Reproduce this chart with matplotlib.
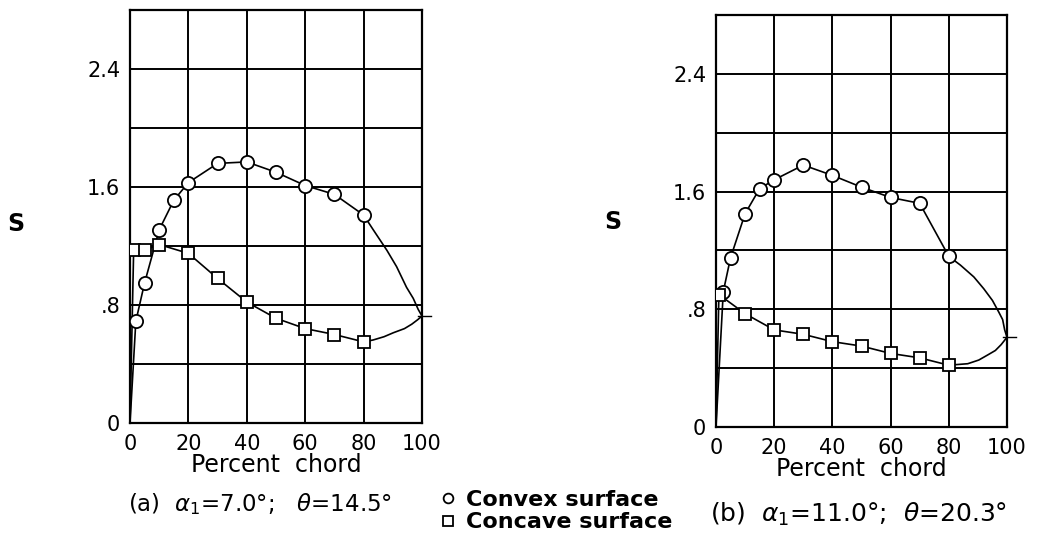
import numpy as np
import matplotlib
matplotlib.use("Agg")
from matplotlib import pyplot as plt
from matplotlib.lines import Line2D

# (a) alpha1 = 7.0, theta = 14.5
a_convex_x = [2, 5, 10, 15, 20, 30, 40, 50, 60, 70, 80]
a_convex_s = [0.69, 0.95, 1.31, 1.51, 1.63, 1.76, 1.77, 1.70, 1.61, 1.55, 1.41]
a_concave_x = [1.25, 5, 10, 20, 30, 40, 50, 60, 70, 80]
a_concave_s = [1.17, 1.17, 1.21, 1.15, 0.98, 0.82, 0.71, 0.64, 0.60, 0.55]
# faired curves to the trailing edge
a_convex_te_x = [83.3, 88, 91.3, 94.7, 97, 98.7, 100]
a_convex_te_s = [1.31, 1.17, 1.06, 0.92, 0.845, 0.77, 0.725]
a_concave_te_x = [83.3, 87, 90.2, 94, 96.5, 98.5, 100]
a_concave_te_s = [0.563, 0.585, 0.612, 0.64, 0.67, 0.70, 0.725]

# (b) alpha1 = 11.0, theta = 20.3
b_convex_x = [2.5, 5, 10, 15, 20, 30, 40, 50, 60, 70, 80]
b_convex_s = [0.92, 1.15, 1.45, 1.62, 1.68, 1.78, 1.71, 1.63, 1.56, 1.52, 1.16]
b_concave_x = [1, 10, 20, 30, 40, 50, 60, 70, 80]
b_concave_s = [0.90, 0.77, 0.66, 0.63, 0.58, 0.55, 0.50, 0.47, 0.42]
b_convex_te_x = [84, 88.6, 92, 95, 97.2, 98.5, 99.2, 100]
b_convex_te_s = [1.10, 1.02, 0.94, 0.86, 0.78, 0.73, 0.66, 0.61]
b_concave_te_x = [86.5, 90.3, 93.4, 96, 98, 99, 100]
b_concave_te_s = [0.43, 0.455, 0.49, 0.52, 0.56, 0.585, 0.61]

x_ticks = [0, 20, 40, 60, 80, 100]
x_labels = ["0", "20", "40", "60", "80", "100"]
y_ticks = [0, 0.4, 0.8, 1.2, 1.6, 2.0, 2.4, 2.8]
y_labels = ["0", "", ".8", "", "1.6", "", "2.4", ""]

captions = [r"(a)  $\alpha_{\mathit{1}}$=7.0°;   $\theta$=14.5°",
            r"(b)  $\alpha_{\mathit{1}}$=11.0°;  $\theta$=20.3°"]

plt.rcParams["mathtext.fontset"] = "dejavusans"

fig = plt.figure(figsize=(10.39, 5.39), dpi=100)
ax1 = fig.add_axes([130 / 1039, 1 - 423 / 539, 292 / 1039, 413 / 539])
ax2 = fig.add_axes([716 / 1039, 1 - 427 / 539, 291 / 1039, 412 / 539])


def draw_panel(ax, cx, cs, qx, qs, cte_x, cte_s, qte_x, qte_s):
    lw = 1.2
    # convex surface, from the leading edge
    ax.plot([0] + cx + cte_x, [0] + cs + cte_s, color="black", lw=lw, zorder=3)
    ax.plot(cx, cs, ls="none", marker="o", ms=9.5, mfc="white", mec="black", mew=1.3, zorder=4)
    # concave surface
    ax.plot([0] + qx + qte_x, [0] + qs + qte_s, color="black", lw=lw, zorder=3)
    ax.plot(qx, qs, ls="none", marker="s", ms=8.5, mfc="white", mec="black", mew=1.3, zorder=4)
    # trailing-edge tick
    te = cte_s[-1]
    ax.plot([98.5, 103], [te, te], color="black", lw=1.0, clip_on=False, zorder=3)

    ax.set_xlim(0, 100)
    ax.set_ylim(0, 2.8)
    ax.set_xticks(x_ticks)
    ax.set_xticklabels(x_labels, fontsize=15)
    ax.set_yticks(y_ticks)
    ax.set_yticklabels(y_labels, fontsize=15)
    ax.tick_params(axis="x", length=0, pad=8)
    ax.tick_params(axis="y", length=0, pad=7)
    ax.grid(True, color="black", lw=1.4)
    ax.set_axisbelow(True)
    for sp in ax.spines.values():
        sp.set_linewidth(1.6)
    ax.set_xlabel("Percent  chord", fontsize=17, labelpad=-1)


draw_panel(ax1, a_convex_x, a_convex_s, a_concave_x, a_concave_s,
           a_convex_te_x, a_convex_te_s, a_concave_te_x, a_concave_te_s)
draw_panel(ax2, b_convex_x, b_convex_s, b_concave_x, b_concave_s,
           b_convex_te_x, b_convex_te_s, b_concave_te_x, b_concave_te_s)

fig.text(16 / 1039, 1 - 224 / 539, "S", fontsize=17, fontweight="bold", ha="center", va="center")
fig.text(613 / 1039, 1 - 222 / 539, "S", fontsize=17, fontweight="bold", ha="center", va="center")

fig.text(128 / 1039, 1 - 504 / 539, captions[0], fontsize=16.5, ha="left", va="center")
fig.text(710 / 1039, 1 - 514 / 539, captions[1], fontsize=18, ha="left", va="center")

handles = [Line2D([], [], ls="none", marker="o", ms=7, mfc="white", mec="black", mew=1.3),
           Line2D([], [], ls="none", marker="s", ms=6.5, mfc="white", mec="black", mew=1.3)]
fig.legend(handles, ["Convex surface", "Concave surface"], loc="upper left",
           bbox_to_anchor=(428 / 1039, 1 - 479 / 539), frameon=False,
           handlelength=0.8, handletextpad=0.4, labelspacing=0.1, borderpad=0,
           prop={"size": 16, "weight": "bold"})

fig.savefig("out.png", dpi=100, facecolor="white")
